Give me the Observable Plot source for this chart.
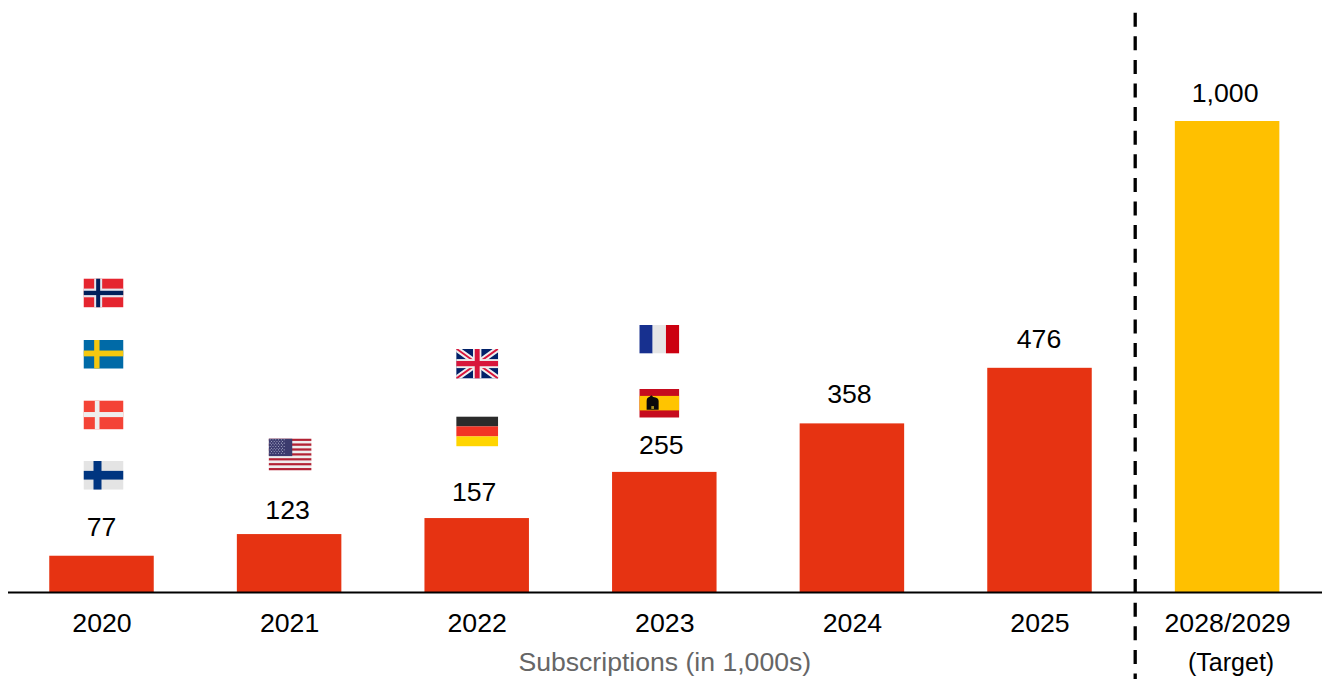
<!DOCTYPE html>
<html>
<head>
<meta charset="utf-8">
<script src="https://cdn.jsdelivr.net/npm/d3@7"></script>
<script src="https://cdn.jsdelivr.net/npm/@observablehq/plot@0.6"></script>
<style>
  html, body { margin: 0; padding: 0; background: #fff; overflow: hidden; }
  svg { display: block; }
</style>
</head>
<body>
<div id="chart"></div>
<script>
// Subscriptions per year, in thousands
const years = ["2020", "2021", "2022", "2023", "2024", "2025", "2028/2029"];
const subscriptions = [77, 123, 157, 255, 358, 476, 1000];
const targetYear = "2028/2029";

// Countries entering the market each year, with the height they sit at on the value axis
const flagCountries = ["Norway", "Sweden", "Denmark", "Finland", "USA", "UK", "Germany", "France", "Spain"];
const flagYears = ["2020", "2020", "2020", "2020", "2021", "2022", "2022", "2023", "2023"];
const flagLevels = [636, 506, 377, 249, 293, 486, 342, 538, 402];

const RED = "#E63312";
const AMBER = "#FFC000";
const FONT = "'Liberation Sans', Arial, sans-serif";

// Small hand-placed offsets for value labels, keyed by year
const labelNudge = {
  "2020": [-0.5, -29], "2021": [-2, -24], "2022": [-3, -26], "2023": [-3.5, -27],
  "2024": [-3, -29], "2025": [-1, -29], "2028/2029": [-2.5, -28]
};

// Flag artwork, each drawn on a 60x40 canvas
const nordic = (field, outer, inner) => `
  <rect width="60" height="40" fill="${field}"/>
  ${outer ? `<rect x="16" width="12" height="40" fill="${outer}"/><rect y="14" width="60" height="12" fill="${outer}"/>` : ""}
  <rect x="19" width="6" height="40" fill="${inner}"/><rect y="17" width="60" height="6" fill="${inner}"/>`;

const usStripes = d3.range(13).map(i =>
  `<rect y="${i * 40 / 13}" width="60" height="${40 / 13}" fill="${i % 2 ? "#eeeeee" : "#b22234"}"/>`).join("");
const usStars = d3.range(9).flatMap(r => d3.range(r % 2 ? 5 : 6).map(c =>
  `<circle cx="${(r % 2 ? 3.3 : 1.6) + c * 3.9 + 0.6}" cy="${1.6 + r * 2.1}" r="0.65" fill="#c9cbe0"/>`)).join("");

const flagArt = {
  Norway: nordic("#e5252f", "#e6e6ee", "#00205b"),
  Sweden: `<rect width="60" height="40" fill="#006aa7"/><rect x="16" width="8" height="40" fill="#f5c80f"/><rect y="15" width="60" height="8" fill="#f5c80f"/>`,
  Denmark: `<rect width="60" height="40" fill="#f44336"/><rect x="17" width="7" height="40" fill="#eeeeee"/><rect y="16" width="60" height="7" fill="#eeeeee"/>`,
  Finland: `<rect width="60" height="40" fill="#e4e4e4"/><rect x="15" width="12" height="40" fill="#003580"/><rect y="14" width="60" height="12" fill="#003580"/>`,
  USA: `${usStripes}<rect width="33" height="22" fill="#3c3b6e"/>${usStars}`,
  UK: `<rect width="60" height="40" fill="#012169"/>
    <path d="M0 0L60 40M60 0L0 40" stroke="#eeeeee" stroke-width="8"/>
    <path d="M0 0L60 40M60 0L0 40" stroke="#d8163c" stroke-width="2.6"/>
    <rect x="24" width="12" height="40" fill="#eeeeee"/><rect y="14" width="60" height="12" fill="#eeeeee"/>
    <rect x="26.5" width="7" height="40" fill="#d8163c"/><rect y="16.5" width="60" height="7" fill="#d8163c"/>`,
  Germany: `<rect width="60" height="13.4" fill="#2b2b2b"/><rect y="13.3" width="60" height="13.4" fill="#f23325"/><rect y="26.6" width="60" height="13.4" fill="#ffd500"/>`,
  France: `<rect width="20" height="40" fill="#17308f"/><rect x="20" width="20" height="40" fill="#e6e6e6"/><rect x="40" width="20" height="40" fill="#cc0010"/>`,
  Spain: `<rect width="60" height="40" fill="#c60b1e"/><rect y="10" width="60" height="20" fill="#ffc400"/>
    <path d="M11 29V17Q11 12 15 11.5L18 9L21 11.5Q29 12 29 17V29Z" fill="#0a0a0a"/><rect x="18" y="24" width="4" height="4" fill="#a89020"/>`
};

const flagSrc = name => "data:image/svg+xml," + encodeURIComponent(
  `<svg xmlns="http://www.w3.org/2000/svg" viewBox="0 0 60 40" preserveAspectRatio="none">${flagArt[name]}</svg>`);

// Rendered size and sideways shift per flag
const flagLayout = {
  Norway: [40, 29, 1.5], Sweden: [40, 29, 1.5], Denmark: [40, 29, 1.5], Finland: [40, 29, 1.5],
  USA: [43, 32, 0.5], UK: [42, 30, 0], Germany: [42, 30, 0], France: [40, 29, -5.5], Spain: [40, 29, -5.5]
};

const bars = years.map((year, i) => ({year, value: subscriptions[i]}));
const flags = flagCountries.map((country, i) => ({country, year: flagYears[i], level: flagLevels[i]}));

const chart = Plot.plot({
  width: 1322,
  height: 679,
  marginTop: 0,
  marginRight: 0,
  marginBottom: 87,
  marginLeft: 8,
  style: {background: "#fff", fontFamily: FONT, overflow: "visible"},
  x: {domain: years, range: [7.7, 1320.9], paddingInner: 0.443, paddingOuter: 0.2215, align: 0.5, round: false, label: null},
  y: {domain: [0, 1000], range: [592, 121], axis: null},
  marks: [
    Plot.barY(bars, {
      x: "year", y: "value",
      fill: d => d.year === targetYear ? AMBER : RED
    }),
    Plot.ruleY([0], {stroke: "#000", strokeWidth: 2}),
    // Divider between actuals and the target
    Plot.link([0], {
      x1: () => targetYear, x2: () => targetYear,
      y1: () => 1231, y2: () => -185,
      dx: -92.4,
      stroke: "#000", strokeWidth: 3.3,
      strokeDasharray: "14 9.6"
    }),
    Plot.axisX({
      anchor: "bottom", tickSize: 0, tickPadding: 21, fontSize: 26.7, label: null,
      color: "#000", fill: "#000"
    }),
    ...bars.map(d => Plot.text([d], {
      x: "year", y: "value", text: b => d3.format(",")(b.value),
      dx: labelNudge[d.year][0], dy: labelNudge[d.year][1],
      fontSize: 26.7, fill: "#000"
    })),
    ...flags.map(d => Plot.image([d], {
      x: "year", y: "level", src: f => flagSrc(f.country),
      width: flagLayout[d.country][0], height: flagLayout[d.country][1],
      dx: flagLayout[d.country][2],
      preserveAspectRatio: "none"
    })),
    Plot.text(["Subscriptions (in 1,000s)"], {
      x: () => "2023", y: () => 0, dy: 70,
      fontSize: 26.6, fill: "#666666"
    }),
    Plot.text(["(Target)"], {
      x: () => targetYear, y: () => 0, dy: 70, dx: 3.5,
      fontSize: 25, fill: "#000"
    })
  ]
});

document.getElementById("chart").append(chart);
</script>
</body>
</html>
